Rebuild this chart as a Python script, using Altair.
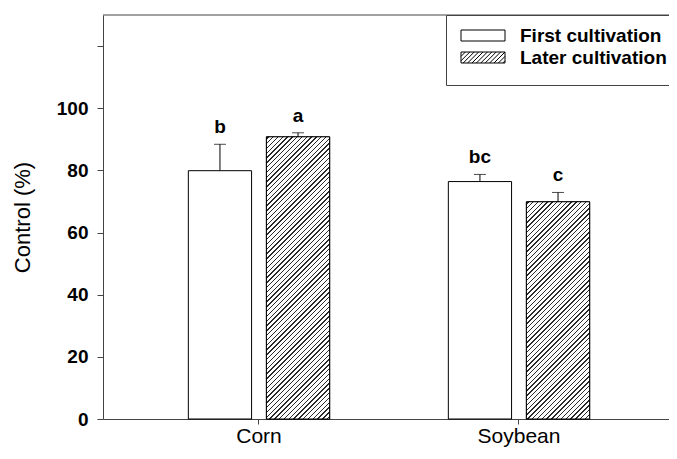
import altair as alt
import pandas as pd

# ---- data ----
crops = ["Corn", "Corn", "Soybean", "Soybean"]
cultivations = ["First cultivation", "Later cultivation", "First cultivation", "Later cultivation"]
means = [79.9, 90.8, 76.4, 69.9]
errors = [8.5, 1.3, 2.3, 3.0]
letters = ["b", "a", "bc", "c"]
cultivation_order = ["First cultivation", "Later cultivation"]
crop_order = ["Corn", "Soybean"]
y_tick_values = [0, 20, 40, 60, 80, 100, 120]
y_max = 130

df = pd.DataFrame({
    "crop": crops,
    "cultivation": cultivations,
    "mean": means,
    "err": errors,
    "letter": letters,
})

# ---- layout constants ----
W, H = 566, 404
X_PAD_IN, X_PAD_OUT, X_ALIGN = 0.0, 0.0885, 0.565
OFF_PAD_IN, OFF_PAD_OUT = 0.19, 0.76
FONT = "Liberation Sans, Arial, Helvetica, sans-serif"
AXIS_COLOR = "#444444"

step = W / (len(crop_order) - X_PAD_IN + 2 * X_PAD_OUT)
band = step * (1 - X_PAD_IN)
off_step = band / (len(cultivation_order) - OFF_PAD_IN + 2 * OFF_PAD_OUT)
bar_w = off_step * (1 - OFF_PAD_IN)


def hatch_gradient(value, spacing=4.8, dark=1.35, color="#2a2a2a"):
    w = bar_w
    h = value * H / y_max
    L = w + h
    a = L / (w * w + h * h)
    stops = [alt.GradientStop(offset=0, color="white")]
    c = 1.5
    while c + dark < L:
        s0 = c / L
        s1 = (c + dark) / L
        stops += [
            alt.GradientStop(offset=s0, color="white"),
            alt.GradientStop(offset=s0, color=color),
            alt.GradientStop(offset=s1, color=color),
            alt.GradientStop(offset=s1, color="white"),
        ]
        c += spacing
    stops.append(alt.GradientStop(offset=1, color="white"))
    return alt.Gradient(gradient="linear", x1=0, y1=0, x2=a * w, y2=a * h, stops=stops)


# legend swatches: unit = half of symbol height (5.5 px); box x in [-1, 7], y in [-1, 1]
plain_symbol = "M-1,-1H7V1H-1Z"


def hatch_symbol(sp=0.8):
    parts = [plain_symbol]
    x0 = -3.0
    while x0 < 7:
        sx, sy = x0, 1.0
        ex, ey = x0 + 2.0, -1.0
        if sx < -1:
            sy = 1.0 - (-1 - sx)
            sx = -1.0
        if ex > 7:
            ey = -1.0 + (ex - 7)
            ex = 7.0
        if ex > sx + 1e-6:
            parts.append(f"M{sx:.3f},{sy:.3f}L{ex:.3f},{ey:.3f}")
        x0 += sp
    return "".join(parts)


base = alt.Chart(df).transform_calculate(upper="datum.mean + datum.err").encode(
    x=alt.X(
        "crop:N",
        sort=crop_order,
        scale=alt.Scale(paddingInner=X_PAD_IN, paddingOuter=X_PAD_OUT, align=X_ALIGN),
        axis=alt.Axis(
            title=None, labelAngle=0, labelFont=FONT, labelFontSize=21,
            labelColor="black", tickSize=5, tickColor=AXIS_COLOR,
            domainColor=AXIS_COLOR, labelBaseline="alphabetic", labelPadding=18,
        ),
    ),
    xOffset=alt.XOffset(
        "cultivation:N",
        scale=alt.Scale(domain=cultivation_order, paddingInner=OFF_PAD_IN, paddingOuter=OFF_PAD_OUT),
    ),
    y=alt.Y(
        "mean:Q",
        scale=alt.Scale(domain=[0, y_max], nice=False),
        axis=alt.Axis(
            title="Control (%)", values=y_tick_values,
            labelExpr="datum.value > 100 ? '' : datum.label",
            labelFont=FONT, labelFontSize=19, labelFontWeight="bold", labelColor="black",
            tickSize=6, tickColor=AXIS_COLOR, domainColor=AXIS_COLOR, labelPadding=9,
            grid=False, titleFont=FONT, titleFontSize=22, titleFontWeight="normal",
            titleColor="black", titleX=-81, titleY=H / 2, titleAngle=270,
            titleAlign="center", titleBaseline="middle",
        ),
    ),
)

bars = base.mark_bar(fill="white", stroke="black", strokeWidth=1)

hatched = []
for crop, cult, m in zip(crops, cultivations, means):
    if cult == "Later cultivation":
        hatched.append(
            base.transform_filter(
                (alt.datum.crop == crop) & (alt.datum.cultivation == cult)
            ).mark_bar(fill=hatch_gradient(m), stroke="black", strokeWidth=1)
        )

err_rule = base.mark_rule(color="black", strokeWidth=1).encode(y="mean:Q", y2="upper:Q")
err_cap = base.mark_tick(color="black", thickness=1, size=12).encode(y="upper:Q")
labels = base.mark_text(
    font=FONT, fontSize=19, fontWeight="bold", color="black",
    baseline="alphabetic", dy=-11,
).encode(y="upper:Q", text="letter:N")

legend_def = alt.Legend(
    title=" ", titleOrient="bottom", titleFontSize=4, titlePadding=2,
    orient="none", legendX=343, legendY=0,
    strokeColor=AXIS_COLOR, fillColor="white", padding=11,
    labelFont=FONT, labelFontSize=19, labelFontWeight="bold", labelColor="black",
    symbolStrokeWidth=1, symbolSize=121, symbolOpacity=1, labelOffset=44, rowPadding=2,
)

legend_layer = base.mark_point(filled=True, opacity=0, size=121).encode(
    shape=alt.Shape(
        "cultivation:N",
        scale=alt.Scale(domain=cultivation_order, range=[plain_symbol, hatch_symbol()]),
        legend=legend_def,
    ),
    fill=alt.Fill(
        "cultivation:N",
        scale=alt.Scale(domain=cultivation_order, range=["white", "white"]),
        legend=legend_def,
    ),
    stroke=alt.Stroke(
        "cultivation:N",
        scale=alt.Scale(domain=cultivation_order, range=["black", "black"]),
        legend=legend_def,
    ),
)

top_border = alt.Chart(pd.DataFrame({"top": [y_max]})).mark_rule(
    color=AXIS_COLOR, strokeWidth=1
).encode(y=alt.Y("top:Q"))

chart = alt.layer(
    bars, *hatched, err_rule, err_cap, labels, top_border, legend_layer
).properties(
    width=W, height=H,
    autosize=alt.AutoSizeParams(type="none"),
    padding={"left": 95, "top": 7, "right": 0, "bottom": 28},
).configure_view(stroke="transparent")

chart.save("out.html", embed_options={"renderer": "svg", "actions": False})
